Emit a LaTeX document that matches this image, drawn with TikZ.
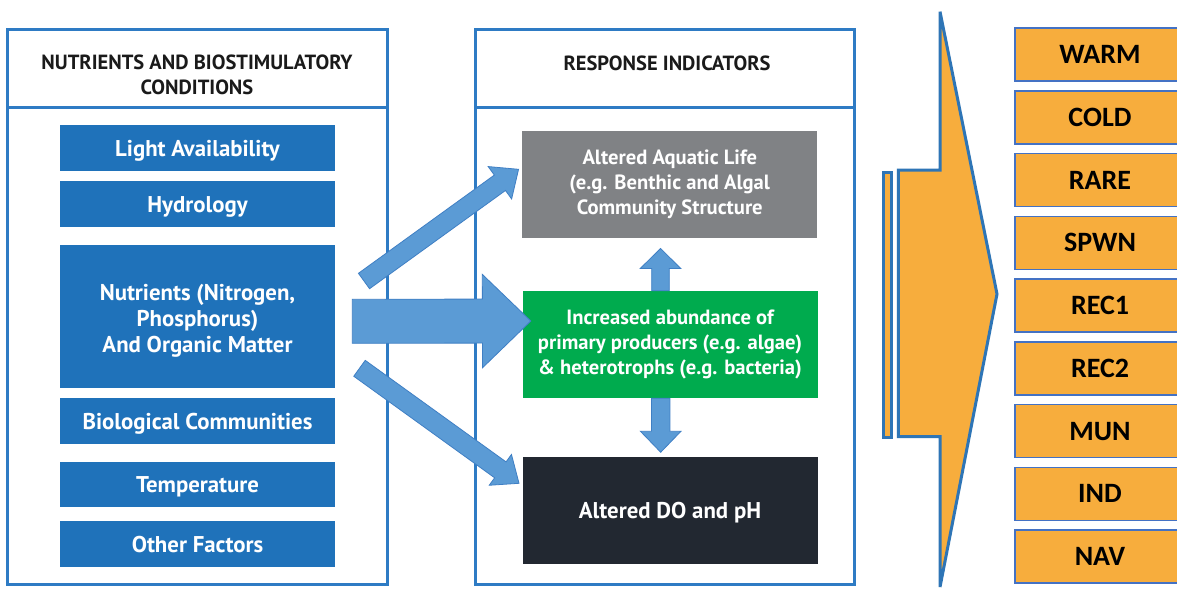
\documentclass[tikz,border=0pt]{standalone}
\usepackage{fontspec}
\setmainfont{PT Sans}
\newfontfamily\labfont{Carlito}
\usetikzlibrary{calc}
\definecolor{pborder}{HTML}{2E7BC4}
\definecolor{boxblue}{HTML}{1F72BA}
\definecolor{arrfill}{HTML}{5B9BD5}
\definecolor{arrline}{HTML}{3F7FC4}
\definecolor{greybox}{HTML}{808285}
\definecolor{greenbox}{HTML}{00AB4E}
\definecolor{darkbox}{HTML}{222831}
\definecolor{orangef}{HTML}{F7AD3D}
\definecolor{orangeline}{HTML}{2E75B6}
\definecolor{boxline}{HTML}{4472C4}
\definecolor{headtxt}{HTML}{1A1A1A}
\newcommand\blockarrow[5]{%
  \coordinate (bah) at ($(#2)!#5!(#1)$);
  \draw[blockarr] ($(#1)!#3!90:(#2)$) -- ($(bah)!#3!90:(#2)$) -- ($(bah)!#4!90:(#2)$) -- (#2) -- ($(bah)!#4!-90:(#2)$) -- ($(bah)!#3!-90:(#2)$) -- ($(#1)!#3!-90:(#2)$) -- cycle;}
\begin{document}
\begin{tikzpicture}[x=1pt,y=-1pt,
  panel/.style={draw=pborder, line width=3pt, fill=white, inner sep=0pt, outer sep=0pt},
  heading/.style={font=\bfseries\fontsize{20.5}{24.5}\selectfont, text=headtxt, align=center, inner sep=0pt},
  bluebox/.style={fill=boxblue, text=white, minimum width=275pt, inner sep=0pt, font=\bfseries\fontsize{22.8}{26}\selectfont, text height=16pt, text depth=0pt},
  bluetext/.style={text=white, inner sep=0pt, font=\bfseries\fontsize{22.8}{26}\selectfont, align=center},
  respbox/.style={minimum width=295pt, minimum height=107pt, text=white, inner sep=0pt, font=\bfseries\fontsize{20.6}{25}\selectfont, align=center},
  obox/.style={fill=orangef, draw=boxline, line width=1.5pt, minimum width=170pt, minimum height=53pt, inner sep=0pt, font=\labfont\bfseries\fontsize{28}{30}\selectfont, text height=18pt, text depth=0pt},
  blockarr/.style={fill=arrfill, draw=arrline, line width=0.8pt, line join=miter}]
\useasboundingbox (0,0) rectangle (1177,589);
\fill[white] (0,0) rectangle (1177,589);
% panels
\node[panel, minimum width=379.5pt, minimum height=555pt] (lp) at (197.25,306.5) {};
\node[panel, minimum width=378.3pt, minimum height=555pt] (mp) at (664.85,306.5) {};
\coordinate (hd) at (0,107.5);
\draw[pborder, line width=3pt] (lp.west |- hd) -- (lp.east |- hd);
\draw[pborder, line width=3pt] (mp.west |- hd) -- (mp.east |- hd);
\node[heading] (lh) at (197,75) {NUTRIENTS AND BIOSTIMULATORY\\CONDITIONS};
\node[heading] (rh) at (667,63) {RESPONSE INDICATORS};
% left boxes
\node[bluebox, minimum height=46pt] (la) at (197.5,148) {Light Availability};
\node[bluebox, minimum height=46pt] (hy) at (197.5,204) {Hydrology};
\node[bluebox, minimum height=143pt, text height=0pt] (nu) at (197.5,316.5) {};
\node[bluetext] (nut) at (197.5,321) {Nutrients (Nitrogen,\\Phosphorus)\\And Organic Matter};
\node[bluebox, minimum height=46pt] (bc) at (197.5,421) {Biological Communities};
\node[bluebox, minimum height=45pt] (te) at (197.5,484.5) {Temperature};
\node[bluebox, minimum height=46pt] (of) at (197.5,544) {Other Factors};
% response boxes
\node[respbox, fill=greybox] (ga) at (669.75,184.5) {Altered Aquatic Life\\(e.g. Benthic and Algal\\Community Structure};
\node[respbox, fill=greenbox] (gr) at (670,344.5) {Increased abundance of\\primary producers (e.g. algae)\\\& heterotrophs (e.g. bacteria)};
\node[respbox, fill=darkbox, minimum height=106.5pt, font=\bfseries\fontsize{22.8}{26}\selectfont, text height=16pt, text depth=0pt] (dk) at (670,510.5) {Altered DO and pH};
% block arrows
\coordinate (t1) at (364,281);
\coordinate (p1) at ($(ga.west)+(-3.5,-15.2)$);
\coordinate (t2) at (352.3,321.3);
\coordinate (p2) at ($(gr.west)+(8.5,-23.5)$);
\coordinate (t3) at (359.5,368.3);
\coordinate (p3) at ($(dk.west)+(-3.3,-27.2)$);
\coordinate (t4) at ($(gr.north)+(-9.5,0)$);
\coordinate (p4) at ($(ga.south)+(-9.2,10.3)$);
\coordinate (t5) at ($(gr.south)+(-9.3,0)$);
\coordinate (p5) at ($(dk.north)+(-9.3,-4.8)$);
\blockarrow{t1}{p1}{9.5pt}{20pt}{23pt}
\blockarrow{t2}{p2}{22pt}{46.7pt}{48.4pt}
\blockarrow{t3}{p3}{9.8pt}{19pt}{23pt}
\blockarrow{t4}{p4}{8.8pt}{20.3pt}{20pt}
\blockarrow{t5}{p5}{9.2pt}{20.3pt}{21pt}
% orange chevron
\draw[orangeline, fill=orangef, line width=3pt, line join=miter] (940,11.7) -- (997,294) -- (940,587) -- (940,436.7) -- (898.3,436.7) -- (898.3,170) -- (940,170) -- cycle;
\draw[orangeline, fill=orangef, line width=3pt] (883.2,172) rectangle (891.8,437);
% orange labels
\foreach \lab [count=\i from 0] in {WARM,COLD,RARE,SPWN,REC1,REC2,MUN,IND,NAV}
  \node[obox] (o\i) at (1100,54.5+62.75*\i) {\lab};
\end{tikzpicture}
\end{document}
